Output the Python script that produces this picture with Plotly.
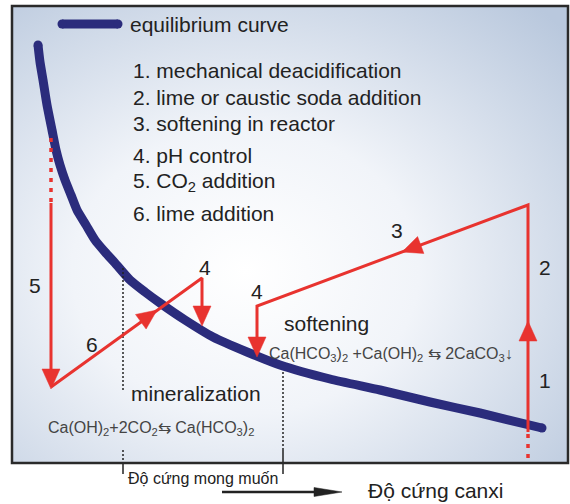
import math
import base64
import plotly.graph_objects as go

# ---------------- data (diagram coordinates, pixel-like units) ----------------
curve_x = [38, 40, 43, 47, 52, 56, 60, 65, 71, 77, 86, 95, 105, 115, 130, 145, 160, 185, 213, 247, 280, 330, 380, 430, 480, 542]
curve_y = [45, 62, 80, 105, 130, 150, 165, 180, 195, 210, 225, 240, 252, 263, 280, 292, 303, 320, 337, 352, 365, 379, 390, 402, 413, 428]

# red process paths (solid)
path5_x = [51, 51]
path5_y = [203, 380]
path6_x = [51, 202, 202]
path6_y = [387, 278, 316]
path123_x = [528, 528, 257, 257]
path123_y = [432, 205, 306, 346]
# red dotted continuations
dot5_x = [51, 51]
dot5_y = [138, 203]
dot1_x = [528, 528]
dot1_y = [434, 458]

# arrowheads: tip point and a point the arrow comes from
head_tip_x = [51, 157, 202, 402, 257, 528]
head_tip_y = [389, 310, 326, 252, 357, 321]
head_from_x = [51, 51, 202, 528, 257, 528]
head_from_y = [300, 387, 278, 205, 306, 432]

# step numbers
num_text = ["5", "6", "4", "4", "3", "2", "1"]
num_x = [35, 92, 205, 257, 397, 545, 545]
num_y = [285, 344, 267, 291, 230, 267, 380]

# legend / list text
list_text = [
    "1. mechanical deacidification",
    "2. lime or caustic soda addition",
    "3. softening in reactor",
    "4. pH control",
    "5. CO<sub>2</sub> addition",
    "6. lime addition",
]
list_y = [70, 97, 123, 155, 182, 213]

# reference hardness lines
ref_x = [123, 283]
ref_top_y = [268, 372]

RED = "#e8332f"
NAVY = "#2b2c7c"
TXT = "#222222"
FONT = "Liberation Sans, Arial, sans-serif"

fig = go.Figure()

# background gradient image inside the frame
svg = """<svg xmlns="http://www.w3.org/2000/svg" width="556" height="457" viewBox="0 0 556 457">
<defs>
<radialGradient id="g" cx="0.42" cy="0.58" r="0.78">
<stop offset="0" stop-color="#ffffff"/>
<stop offset="0.4" stop-color="#f1f4f9"/>
<stop offset="1" stop-color="#b9c8dd"/>
</radialGradient>
</defs>
<rect width="556" height="457" fill="url(#g)"/>
</svg>"""
src = "data:image/svg+xml;base64," + base64.b64encode(svg.encode()).decode()

def line(x, y, color, width, dash="solid"):
    fig.add_trace(go.Scatter(x=x, y=y, mode="lines", hoverinfo="skip",
                             line=dict(color=color, width=width, dash=dash)))

# equilibrium curve
fig.add_trace(go.Scatter(x=curve_x, y=curve_y, mode="lines", hoverinfo="skip",
                         line=dict(color=NAVY, width=9, shape="spline", smoothing=0.6)))
fig.add_trace(go.Scatter(x=[curve_x[0], curve_x[-1]], y=[curve_y[0], curve_y[-1]], mode="markers",
                         hoverinfo="skip", marker=dict(color=NAVY, size=9)))
# legend line
fig.add_trace(go.Scatter(x=[62, 118], y=[24, 24], mode="lines+markers", hoverinfo="skip",
                         line=dict(color=NAVY, width=9), marker=dict(color=NAVY, size=9)))

# reference dotted lines and bracket ticks
for rx, ry in zip(ref_x, ref_top_y):
    line([rx, rx], [ry, 392 if rx == ref_x[0] else 463], TXT, 1.5, "2px,2px")
    line([rx, rx], [450, 463], TXT, 1.5, "2px,2px")
    line([rx, rx], [463, 474], TXT, 1.5)

# red paths
line(dot5_x, dot5_y, RED, 3.5, "4px,6px")
line(dot1_x, dot1_y, RED, 3.5, "4px,6px")
line(path5_x, path5_y, RED, 3)
line(path6_x, path6_y, RED, 3)
line(path123_x, path123_y, RED, 3)

shapes = []
# frame
shapes.append(dict(type="rect", xref="x", yref="y", x0=12, y0=6, x1=568, y1=463,
                   line=dict(color="#2a2a2a", width=2.5), layer="above"))

def head_path(tx, ty, fx, fy, L, Wd):
    dx, dy = tx - fx, ty - fy
    n = math.hypot(dx, dy)
    ux, uy = dx / n, dy / n
    px, py = -uy, ux
    bx, by = tx - ux * L, ty - uy * L
    p1 = (bx + px * Wd / 2, by + py * Wd / 2)
    p2 = (bx - px * Wd / 2, by - py * Wd / 2)
    return f"M {tx},{ty} L {p1[0]:.2f},{p1[1]:.2f} L {p2[0]:.2f},{p2[1]:.2f} Z"

for tx, ty, fx, fy in zip(head_tip_x, head_tip_y, head_from_x, head_from_y):
    shapes.append(dict(type="path", xref="x", yref="y", path=head_path(tx, ty, fx, fy, 20, 18),
                       fillcolor=RED, line=dict(color=RED, width=0.5)))

# bottom axis arrow
line([222, 318], [492, 492], TXT, 2.5)
shapes.append(dict(type="path", xref="x", yref="y", path=head_path(342, 492, 222, 492, 28, 9),
                   fillcolor=TXT, line=dict(color=TXT, width=0.5)))

annotations = []
def text(x, y, s, size, color=TXT, anchor="left"):
    annotations.append(dict(x=x, y=y, xref="x", yref="y", text=s, showarrow=False,
                            xanchor=anchor, yanchor="middle",
                            font=dict(family=FONT, size=size, color=color)))

text(128, 24, "equilibrium curve", 21)
for s, y in zip(list_text, list_y):
    text(131, y, s, 21)
for s, x, y in zip(num_text, num_x, num_y):
    text(x, y, s, 21, anchor="center")
text(282, 323, "softening", 21)
text(267, 354, "Ca(HCO<sub>3</sub>)<sub>2</sub> +Ca(OH)<sub>2</sub> \u21c6 2CaCO<sub>3</sub>\u2193", 16, "#444444")
text(129, 393, "mineralization", 21)
text(46, 428, "Ca(OH)<sub>2</sub>+2CO<sub>2</sub>\u21c6 Ca(HCO<sub>3</sub>)<sub>2</sub>", 16, "#444444")
text(126, 478, "\u0110\u1ed9 c\u1ee9ng mong mu\u1ed1n", 16)
text(366, 490, "\u0110\u1ed9 c\u1ee9ng canxi", 21)

fig.update_layout(
    width=570, height=504,
    margin=dict(l=0, r=0, t=0, b=0),
    paper_bgcolor="white", plot_bgcolor="white",
    showlegend=False,
    xaxis=dict(range=[0, 570], visible=False, fixedrange=True),
    yaxis=dict(range=[504, 0], visible=False, fixedrange=True),
    shapes=shapes,
    annotations=annotations,
    images=[dict(source=src, xref="x", yref="y", x=12, y=6, sizex=556, sizey=457,
                 xanchor="left", yanchor="top", sizing="stretch", layer="below")],
)

fig.write_html("out.html", config={"displayModeBar": False, "staticPlot": True},
               post_script="document.body.style.margin='0';document.body.style.overflow='hidden';")
